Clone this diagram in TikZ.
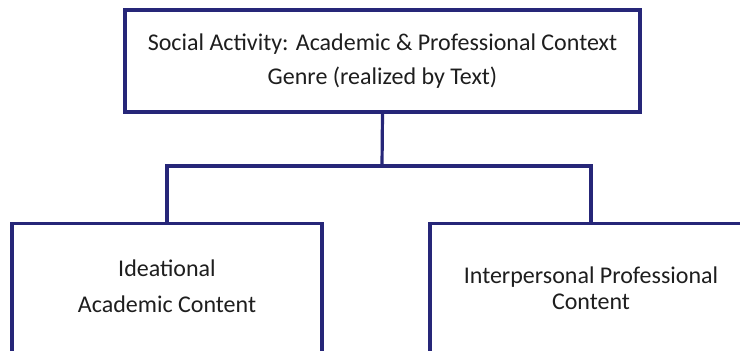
\documentclass[tikz,border=0pt]{standalone}
\usepackage{fontspec}
\setmainfont{Carlito}
\definecolor{boxnavy}{RGB}{38,38,120}
\definecolor{textgray}{RGB}{30,30,30}
\tikzset{
  genrebox/.style={draw=boxnavy, line width=3.2pt, fill=white, align=center,
    inner sep=0pt, text=textgray, font=\fontsize{24}{34}\selectfont},
  boxtext/.style={align=center, inner sep=0pt, text=textgray},
  link/.style={draw=boxnavy, line width=3.2pt}
}
\begin{document}
\begin{tikzpicture}[x=1pt, y=-1pt]
  \useasboundingbox (0,0) rectangle (740,351);
  % top box
  \node[genrebox, minimum width=515pt, minimum height=102pt] (social) at (382.5,61)
    {Social Activity: Academic \& Professional Context\\Genre (realized by Text)};
  % lower boxes, running off the page
  \node[genrebox, minimum width=310pt, minimum height=150pt, anchor=north]
    (ideational) at (167,222) {};
  \node[genrebox, minimum width=322pt, minimum height=150pt, anchor=north]
    (interpersonal) at (591,222) {};
  \node[boxtext, font=\fontsize{24}{36}\selectfont] (ideational text) at (167,286)
    {Ideational\\Academic Content};
  \node[boxtext, font=\fontsize{24}{26}\selectfont] (interpersonal text) at (591,288)
    {Interpersonal Professional\\Content};
  % tree links
  \coordinate (hub) at (382,166);
  \draw[link] (social.south) -- (hub);
  \draw[link] (ideational.north) |- (hub) -| (interpersonal.north);
\end{tikzpicture}
\end{document}
